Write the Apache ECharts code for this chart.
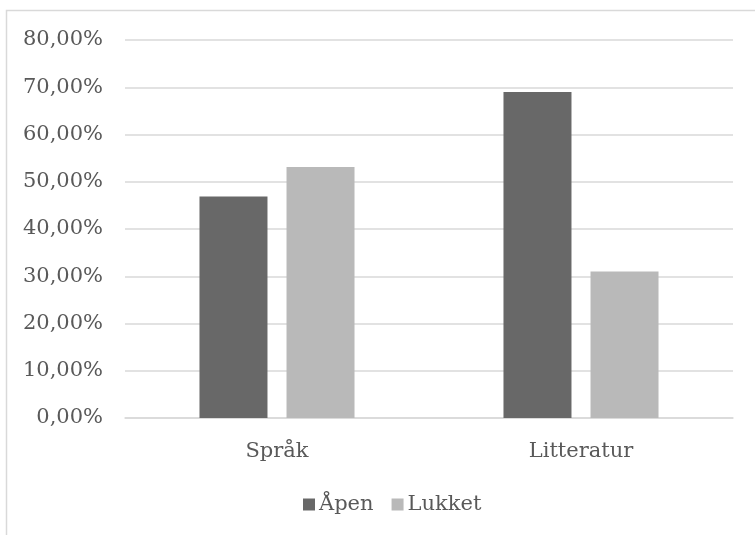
<!DOCTYPE html>
<html>
<head>
<meta charset="utf-8">
<script src="https://cdn.jsdelivr.net/npm/echarts@6/dist/echarts.min.js"></script>
<style>
  html, body { margin: 0; padding: 0; background: #ffffff; }
  #chart { width: 755px; height: 535px; }
</style>
</head>
<body>
<div id="chart"></div>
<script>
// Categories and shares (fractions) per group
const categories = ['Språk', 'Litteratur'];
const seriesNames = ['Åpen', 'Lukket'];
const apenValues = [0.4688, 0.6897];
const lukketValues = [0.5312, 0.3103];
const yTicks = [0, 0.1, 0.2, 0.3, 0.4, 0.5, 0.6, 0.7, 0.8];

const FONT = 'DejaVu Serif';
const TEXT = '#595959';
const SIZE = 21;

function pct(v) {
  return (v * 100).toFixed(2).replace('.', ',') + '%';
}

const chart = echarts.init(document.getElementById('chart'), null, { renderer: 'canvas' });

chart.setOption({
  animation: false,
  backgroundColor: '#ffffff',
  textStyle: { fontFamily: FONT },
  graphic: [{
    type: 'rect',
    shape: { x: 6.5, y: 10.5, width: 900, height: 700 },
    style: { fill: 'none', stroke: '#d9d9d9', lineWidth: 1.5 },
    silent: true,
    z: -10
  }],
  grid: { left: 125, right: 22, top: 40, bottom: 117, containLabel: false },
  legend: {
    data: seriesNames,
    left: 298,
    top: 489,
    icon: 'rect',
    itemWidth: 12,
    itemHeight: 12,
    itemGap: 18,
    textStyle: { fontFamily: FONT, fontSize: SIZE, color: TEXT, padding: [0, 0, 0, -1] }
  },
  xAxis: {
    type: 'category',
    data: categories,
    axisLine: { show: true, lineStyle: { color: '#d9d9d9', width: 1.5 } },
    axisTick: { show: false },
    axisLabel: { fontFamily: FONT, fontSize: SIZE, color: TEXT, margin: 23 }
  },
  yAxis: {
    type: 'value',
    min: yTicks[0],
    max: yTicks[yTicks.length - 1],
    interval: 0.1,
    axisLine: { show: false },
    axisTick: { show: false },
    splitLine: { lineStyle: { color: '#d9d9d9', width: 1.5 } },
    axisLabel: { fontFamily: FONT, fontSize: SIZE, color: TEXT, margin: 22, formatter: pct }
  },
  series: [
    {
      name: seriesNames[0],
      type: 'bar',
      data: apenValues,
      barWidth: 68,
      barGap: '28%',
      itemStyle: { color: '#686868' }
    },
    {
      name: seriesNames[1],
      type: 'bar',
      data: lukketValues,
      barWidth: 68,
      barGap: '28%',
      itemStyle: { color: '#b9b9b9' }
    }
  ]
});
</script>
</body>
</html>
